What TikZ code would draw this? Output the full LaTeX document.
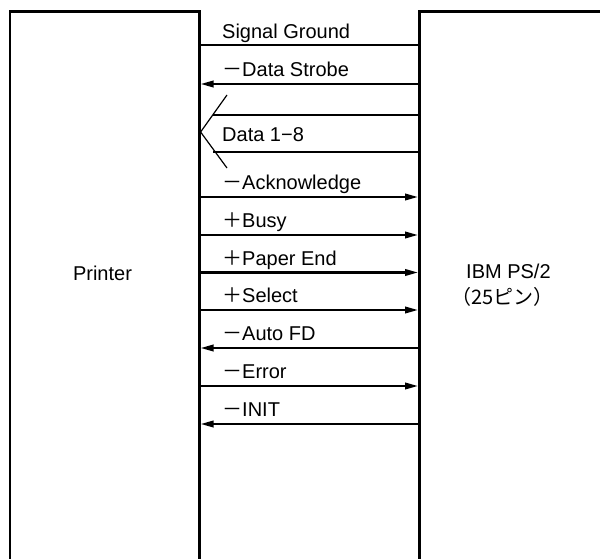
\documentclass[tikz,border=0pt]{standalone}
\usepackage{fontspec}
\setmainfont{Liberation Sans}
\newfontfamily\jpfont{Noto Sans CJK JP}
\usetikzlibrary{positioning, arrows.meta}
\tikzset{>={Triangle[length=13pt,width=6.5pt]}, x=1pt, y=-1pt}
\newcommand\sigminus{{\jpfont －}}
\newcommand\sigplus{{\jpfont ＋}}

\begin{document}
\begin{tikzpicture}[
  unit/.style={draw, line width=2.6pt, anchor=north west, inner sep=0pt, minimum height=600pt},
  sigline/.style={->, line width=2.2pt},
  thinline/.style={line width=1.2pt},
  sig/.style={anchor=base west, inner sep=0pt, font=\fontsize{20}{23}\selectfont}]
\clip (0,0) rectangle (600,559);
\node[unit, minimum width=189.5pt] (printer) at (8.5,10.5) {};
\node[unit, minimum width=250pt] (ps2) at (418,10) {};
\node[sig, anchor=base] (printerlabel) at (102.5,280) {Printer};
\node[sig] (ps2label) at (466,278) {IBM PS/2};
\node[sig] (pinlabel) at (451,304) {\jpfont （25ピン）};
% signal ground
\coordinate (gnd) at (0,45);
\draw[thinline] (printer.east |- gnd) -- (ps2.west |- gnd);
\node[sig] (gndlabel) at (222,39) {Signal Ground};
% data lines
\coordinate (d1) at (213,115);
\coordinate (d2) at (213,152);
\coordinate (dtop) at (227,95);
\coordinate (dbot) at (227,168);
\coordinate (dtip) at (0,132);
\draw[thinline] (d1) -- (ps2.west |- d1);
\draw[thinline] (d2) -- (ps2.west |- d2);
\draw[thinline] (dtop) -- (printer.east |- dtip) -- (dbot);
\node[sig] (datalabel) at (222,141.5) {Data 1−8};
% control lines
\foreach \y/\txt/\from/\to in {
  84/{\sigminus Data Strobe}/ps2.west/printer.east,
  197/{\sigminus Acknowledge}/printer.east/ps2.west,
  235/{\sigplus Busy}/printer.east/ps2.west,
  272.5/{\sigplus Paper End}/printer.east/ps2.west,
  310/{\sigplus Select}/printer.east/ps2.west,
  348/{\sigminus Auto FD}/ps2.west/printer.east,
  386/{\sigminus Error}/printer.east/ps2.west,
  424/{\sigminus INIT}/ps2.west/printer.east}
{
  \coordinate (s) at (0,\y);
  \draw[sigline] (\from |- s) -- (\to |- s);
  \node[sig] at (222,\y-7.5) {\txt};
}
\end{tikzpicture}
\end{document}
